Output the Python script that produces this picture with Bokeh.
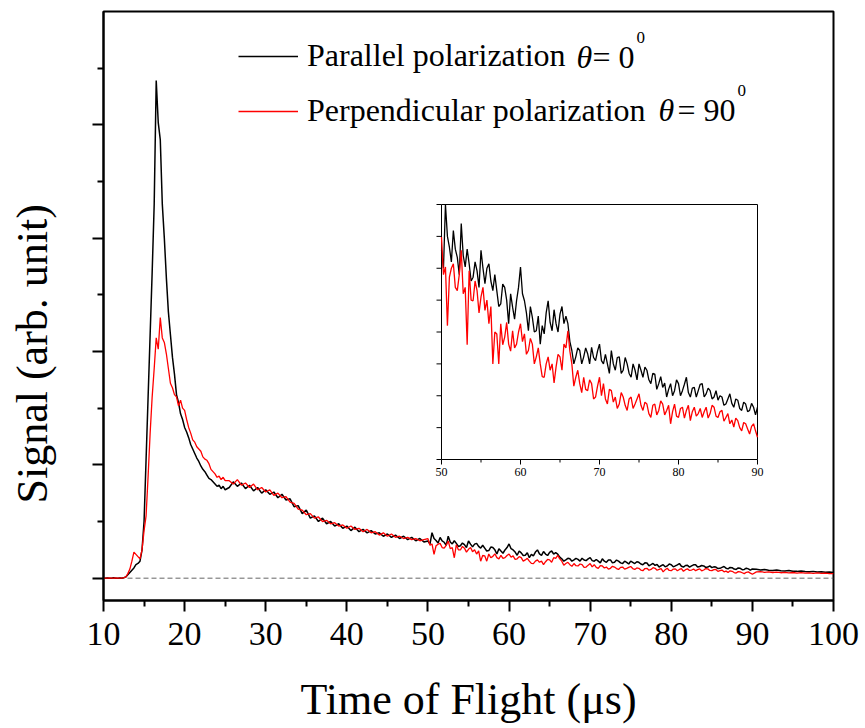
import numpy as np
from bokeh.plotting import figure
from bokeh.models import (Range1d, FixedTicker, Span, Label, Legend, LegendItem,
                          CustomJSTickFormatter, Title, LinearAxis)
from bokeh.embed import file_html
from bokeh.resources import INLINE
from bokeh.core.properties import value

# ---------------- data ----------------
t_fine = np.round(np.arange(10.0, 25.0 + 1e-9, 0.25), 2)     # 10.00 ... 25.00
t_mid = np.round(np.arange(25.5, 49.5 + 1e-9, 0.5), 2)       # 25.5 ... 49.5
t_inset = np.round(np.arange(50.0, 90.0 + 1e-9, 0.25), 2)    # 50.00 ... 90.00
t_tail = np.round(np.arange(90.5, 100.0 + 1e-9, 0.5), 2)     # 90.5 ... 100.0

parallel_fine = [
    0.0, 0.0, 0.002, 0.0, 0.0, 0.003, 0.0, 0.0, 0.002, 0.0,
    0.005, 0.01, 0.03, 0.05, 0.07, 0.09, 0.12, 0.13, 0.15, 0.25,
    0.50, 1.05, 1.60, 2.15, 2.70, 3.30, 4.39, 4.02, 3.87, 3.30,
    3.00, 2.65, 2.35, 2.15, 1.95, 1.80, 1.62, 1.55, 1.45, 1.40,
    1.33, 1.29, 1.24, 1.18, 1.14, 1.10, 1.06, 1.03, 0.99, 0.96,
    0.94, 0.91, 0.88, 0.87, 0.85, 0.83, 0.81, 0.82, 0.79, 0.81,
    0.78,
]
perpendicular_fine = [
    0.0, 0.0, 0.0, 0.002, 0.0, 0.0, 0.003, 0.0, 0.0, 0.0,
    0.004, 0.01, 0.04, 0.08, 0.15, 0.23, 0.21, 0.19, 0.17, 0.25,
    0.42, 0.55, 0.90, 1.28, 1.60, 1.85, 2.12, 2.02, 2.30, 2.12,
    2.08, 1.98, 1.85, 1.72, 1.68, 1.62, 1.60, 1.52, 1.57, 1.50,
    1.48, 1.40, 1.33, 1.28, 1.22, 1.20, 1.16, 1.14, 1.12, 1.07,
    1.05, 1.04, 1.01, 0.96, 0.94, 0.92, 0.89, 0.90, 0.87, 0.89,
    0.86,
]
parallel_mid = [
    0.80, 0.85, 0.81, 0.84, 0.79, 0.82, 0.77, 0.80, 0.75, 0.78,
    0.74, 0.76, 0.71, 0.74, 0.69, 0.70, 0.63, 0.64, 0.57, 0.60,
    0.53, 0.55, 0.50, 0.53, 0.48, 0.50, 0.46, 0.48, 0.44, 0.46,
    0.42, 0.45, 0.41, 0.43, 0.40, 0.42, 0.39, 0.40, 0.37, 0.39,
    0.36, 0.38, 0.35, 0.37, 0.34, 0.36, 0.33, 0.35, 0.32,
]
perpendicular_mid = [
    0.86, 0.83, 0.87, 0.82, 0.84, 0.80, 0.83, 0.78, 0.80, 0.76,
    0.78, 0.73, 0.75, 0.71, 0.72, 0.67, 0.66, 0.61, 0.60, 0.56,
    0.57, 0.53, 0.54, 0.50, 0.51, 0.48, 0.49, 0.46, 0.47, 0.44,
    0.46, 0.43, 0.44, 0.41, 0.43, 0.40, 0.41, 0.38, 0.40, 0.37,
    0.39, 0.36, 0.37, 0.35, 0.36, 0.34, 0.35, 0.33, 0.34,
]
parallel_inset = [
    .328, .300, .401, .350, .333, .310, .359, .330, .317, .290, .370, .320, .302, .330, .307, .280, .286, .310, .296, .270,
    .328, .300, .276, .300, .307, .280, .265, .290, .265, .240, .244, .275, .270, .250, .213, .260, .239, .220, .249, .270,
    .302, .260, .249, .230, .202, .240, .223, .200, .202, .225, .181, .210, .197, .230, .249, .215, .202, .235, .213, .200,
    .228, .240, .213, .225, .213, .185, .171, .150, .161, .175, .171, .150, .161, .175, .166, .150, .176, .160, .155, .170,
    .181, .155, .150, .165, .150, .135, .171, .150, .140, .160, .161, .135, .140, .160, .150, .135, .129, .150, .140, .125,
    .150, .140, .129, .145, .140, .125, .119, .135, .134, .110, .119, .130, .113, .120, .098, .110, .119, .100, .108, .125,
    .119, .100, .108, .118, .129, .105, .098, .112, .113, .098, .108, .118, .119, .098, .103, .112, .108, .095, .098, .108,
    .093, .100, .098, .085, .087, .095, .103, .088, .082, .095, .093, .080, .077, .090, .087, .075, .077, .088, .082, .070,
    .082,
]
perpendicular_inset = [
    .349, .290, .302, .210, .286, .300, .307, .270, .265, .290, .328, .260, .270, .180, .296, .250, .249, .280, .265, .230,
    .255, .270, .234, .250, .213, .240, .150, .200, .197, .150, .213, .180, .192, .215, .181, .170, .202, .175, .181, .200,
    .213, .185, .197, .165, .171, .190, .181, .150, .161, .175, .150, .130, .129, .150, .161, .140, .150, .120, .145, .165,
    .161, .140, .181, .175, .202, .170, .150, .115, .129, .140, .119, .105, .129, .110, .108, .125, .119, .095, .098, .115,
    .129, .100, .119, .095, .087, .110, .108, .090, .098, .080, .087, .105, .098, .085, .077, .095, .098, .080, .087, .095,
    .103, .085, .077, .090, .087, .072, .066, .085, .087, .070, .077, .092, .087, .070, .077, .085, .056, .075, .087, .068,
    .066, .080, .082, .065, .077, .085, .061, .075, .082, .068, .072, .080, .066, .075, .082, .065, .072, .085, .082, .068,
    .066, .075, .077, .060, .066, .072, .056, .062, .051, .065, .061, .050, .045, .058, .056, .048, .040, .052, .056, .045,
    .035,
]
parallel_tail = [
    0.078, 0.072, 0.076, 0.070, 0.068, 0.072, 0.066, 0.064, 0.068, 0.062,
    0.060, 0.064, 0.058, 0.056, 0.060, 0.054, 0.056, 0.052, 0.055, 0.050,
]
perpendicular_tail = [
    0.055, 0.058, 0.052, 0.056, 0.050, 0.054, 0.048, 0.052, 0.047, 0.050,
    0.045, 0.049, 0.044, 0.047, 0.043, 0.046, 0.042, 0.045, 0.041, 0.040,
]

x_ticks = [10, 20, 30, 40, 50, 60, 70, 80, 90, 100]
x_minor_ticks = [15, 25, 35, 45, 55, 65, 75, 85, 95]
y_ticks = [0, 1, 2, 3, 4]
y_minor_ticks = [0.5, 1.5, 2.5, 3.5, 4.5]
inset_x_ticks = [50, 60, 70, 80, 90]
inset_x_minor_ticks = [55, 65, 75, 85]
inset_y_ticks = [0.0, 0.05, 0.10, 0.15, 0.20, 0.25, 0.30, 0.35, 0.40]
inset_x_lim = (50, 90)
inset_y_lim = (0.0, 0.4)

labels = ["Parallel polarization", "Perpendicular polarization"]

time = np.concatenate([t_fine, t_mid, t_inset, t_tail])
parallel = np.array(parallel_fine + parallel_mid + parallel_inset + parallel_tail)
perpendicular = np.array(perpendicular_fine + perpendicular_mid + perpendicular_inset + perpendicular_tail)
assert len(time) == len(parallel) == len(perpendicular)

# ---------------- layout constants (pixels) ----------------
W, H = 865, 728
FL, FR, FT, FB = 103, 833, 11, 600          # main frame
X0, X1 = 10, 100
Y0, Y1 = -0.197, 5.0
IL, IR, IT, IB = 441, 757, 204, 459         # inset frame
FONT = "Liberation Serif"


def dx(px):
    return X0 + (px - FL) * (X1 - X0) / (FR - FL)


def dy(py):
    return Y1 - (py - FT) * (Y1 - Y0) / (FB - FT)


p = figure(width=W, height=H, output_backend="svg", toolbar_location=None,
           title=None,
           x_range=Range1d(X0, X1), y_range=Range1d(Y0, Y1),
           min_border_left=FL, min_border_right=W - FR,
           min_border_top=FT, min_border_bottom=H - FB)
p.background_fill_color = "white"
p.border_fill_color = "white"
p.outline_line_color = "black"
p.outline_line_width = 2
p.grid.visible = False

xa = p.xaxis[0]
ya = p.yaxis[0]
xa.ticker = FixedTicker(ticks=x_ticks, minor_ticks=x_minor_ticks)
ya.ticker = FixedTicker(ticks=y_ticks, minor_ticks=y_minor_ticks)
ya.formatter = CustomJSTickFormatter(code="return ''")
for ax in (xa, ya):
    ax.axis_line_width = 2
    ax.axis_line_color = "black"
    ax.major_tick_line_width = 2
    ax.minor_tick_line_width = 2
    ax.major_tick_line_color = "black"
    ax.minor_tick_line_color = "black"
    ax.major_tick_out = 11
    ax.major_tick_in = 0
    ax.minor_tick_out = 6
    ax.minor_tick_in = 0
xa.major_label_text_font = FONT
xa.major_label_text_font_size = "34px"
xa.major_label_text_color = "black"
xa.major_label_standoff = 11
xa.axis_label = "Time of Flight (μs)"
xa.axis_label_text_font = FONT
xa.axis_label_text_font_size = "44px"
xa.axis_label_text_font_style = "normal"
xa.axis_label_text_color = "black"
xa.axis_label_standoff = 27
ya.major_label_text_font_size = "1px"

# invisible spacer between the y axis and its vertical title
spacer = LinearAxis(ticker=FixedTicker(ticks=y_ticks),
                    formatter=CustomJSTickFormatter(code="return ''"),
                    axis_line_alpha=0, major_tick_line_alpha=0, minor_tick_line_alpha=0,
                    major_tick_out=36, major_tick_in=0, minor_tick_out=0, minor_tick_in=0,
                    major_label_text_font_size="1px", major_label_standoff=0)
p.add_layout(spacer, "left")

# y title (vertical, starts above the frame bottom like the reference)
p.add_layout(Title(text="Signal (arb. unit)", align="left", offset=97,
                   text_font=FONT, text_font_size="44px", text_font_style="normal",
                   text_color="black", standoff=0), "left")

# baseline
p.add_layout(Span(location=0, dimension="width", line_color="#666666",
                  line_dash="5 3", line_width=1, level="underlay"))

# main curves
r_par = p.line(time, parallel, line_color="black", line_width=1.5)
r_perp = p.line(time, perpendicular, line_color="red", line_width=1.3)

# legend
legend = Legend(items=[LegendItem(label=labels[0], renderers=[r_par]),
                       LegendItem(label=labels[1], renderers=[r_perp])],
                location=(135, 471), padding=0, margin=0, spacing=18,
                glyph_width=60, glyph_height=18, label_standoff=9,
                label_text_font=FONT, label_text_font_size="32px",
                label_text_color="black",
                background_fill_alpha=0, border_line_alpha=0)
p.add_layout(legend)


def txt(px, py, s, size=32, style="normal"):
    p.add_layout(Label(x=dx(px), y=dy(py - 0.3 * size), text=s, text_font=FONT,
                       text_font_size=f"{size}px", text_font_style=style,
                       text_color="black", text_baseline="alphabetic",
                       text_align="left"))


txt(576, 65.7, "θ", style="italic")
txt(592, 65.7, "= 0")
txt(636, 42, "0", size=17)
txt(658, 119, "θ", style="italic")
txt(677, 119, "= 90")
txt(737, 95, "0", size=17)

# ---------------- inset (drawn through its own ranges) ----------------
sx = (inset_x_lim[1] - inset_x_lim[0]) / (IR - IL)
sy = (inset_y_lim[1] - inset_y_lim[0]) / (IB - IT)
p.extra_x_ranges = {"ix": Range1d(inset_x_lim[0] - (IL - FL) * sx,
                                  inset_x_lim[1] + (FR - IR) * sx)}
p.extra_y_ranges = {"iy": Range1d(inset_y_lim[0] - (FB - IB) * sy,
                                  inset_y_lim[1] + (IT - FT) * sy)}
kw = dict(x_range_name="ix", y_range_name="iy")

p.quad(left=inset_x_lim[0], right=inset_x_lim[1], bottom=inset_y_lim[0],
       top=inset_y_lim[1], fill_color="white", line_color="black", line_width=1, **kw)
m = (time >= inset_x_lim[0]) & (time <= inset_x_lim[1])
p.line(time[m], np.minimum(parallel[m], inset_y_lim[1]), line_color="black", line_width=1.3, **kw)
p.line(time[m], np.minimum(perpendicular[m], inset_y_lim[1]), line_color="red", line_width=1.3, **kw)

y_base = inset_y_lim[0]
p.segment(x0=inset_x_ticks, y0=[y_base] * len(inset_x_ticks),
          x1=inset_x_ticks, y1=[y_base - 5 * sy] * len(inset_x_ticks),
          line_color="black", line_width=1, **kw)
p.segment(x0=inset_x_minor_ticks, y0=[y_base] * len(inset_x_minor_ticks),
          x1=inset_x_minor_ticks, y1=[y_base - 3 * sy] * len(inset_x_minor_ticks),
          line_color="black", line_width=1, **kw)
x_left = inset_x_lim[0]
p.segment(x0=[x_left] * len(inset_y_ticks), y0=inset_y_ticks,
          x1=[x_left - 5 * sx] * len(inset_y_ticks), y1=inset_y_ticks,
          line_color="black", line_width=1, **kw)
p.text(x=inset_x_ticks, y=[y_base] * len(inset_x_ticks),
       text=[str(v) for v in inset_x_ticks], y_offset=8,
       text_font=value(FONT), text_font_size=value("12px"), text_color="black",
       text_align="center", text_baseline="top", **kw)

open("out.html", "w").write(file_html(p, INLINE))
